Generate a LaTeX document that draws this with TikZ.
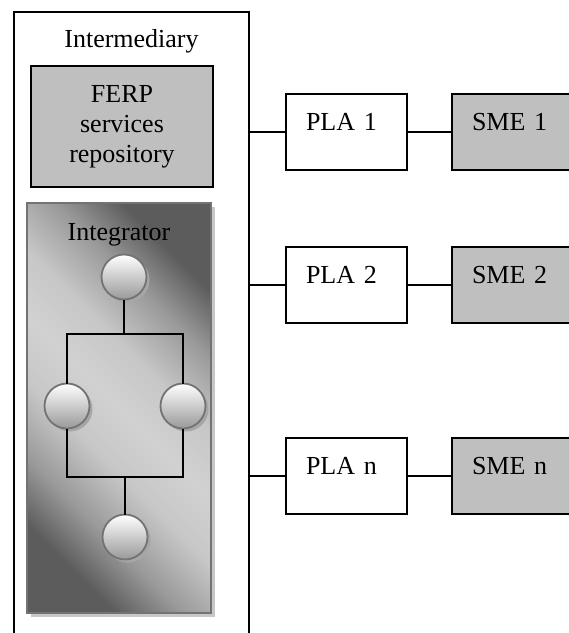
\documentclass[tikz,border=0pt]{standalone}
\usepackage{fontspec}
\setmainfont{Liberation Serif}
\usetikzlibrary{shadows}
\pgfdeclareverticalshading{integshade}{100bp}{color(0bp)=(black!64); color(25bp)=(black!64); color(33bp)=(black!40); color(42bp)=(black!22); color(50bp)=(black!18); color(58bp)=(black!22); color(67bp)=(black!40); color(75bp)=(black!64); color(100bp)=(black!64)}
\begin{document}
\begin{tikzpicture}[x=1pt,y=-1pt,
  every node/.style={font=\fontsize{26}{30}\selectfont, outer sep=0pt},
  line/.style={line width=1.8pt, black},
  outerbox/.style={draw, line width=1.8pt, anchor=north west, inner sep=0pt,
    minimum width=235pt, text height=35pt, text depth=640pt},
  repo/.style={draw, line width=1.8pt, anchor=north west, fill=black!25, inner sep=0pt,
    minimum width=182pt, minimum height=121pt, align=center},
  integ/.style={draw=black!55, line width=2pt, anchor=north west, inner sep=0pt,
    minimum width=184pt, text height=37pt, text depth=373pt,
    shading=integshade, shading angle=-45,
    drop shadow={shadow xshift=4pt, shadow yshift=-4pt, fill=black!22, opacity=1}},
  circ/.style={circle, draw=black!55, line width=1.8pt, minimum size=45pt, inner sep=0pt,
    top color=white, bottom color=black!40,
    drop shadow={shadow xshift=3pt, shadow yshift=-3pt, fill=black!35, opacity=1}},
  pbox/.style={draw, line width=1.8pt, anchor=north west, inner xsep=20pt, inner ysep=0pt,
    text width=81pt, align=left, text height=36pt, text depth=40pt, fill=white},
  sbox/.style={pbox, fill=black!25}]
\path[use as bounding box, clip] (0,0) rectangle (569,633);

\node[outerbox] (inter) at (14,12) {Intermediary};
\node[repo] (ferp) at (31,66) {FERP\\services\\repository};
\node[integ] (integ) at (27,203) {Integrator};

\node[circ] (c1) at (124,277) {};
\node[circ] (c2) at (67,406) {};
\node[circ] (c3) at (183,406) {};
\node[circ] (c4) at (125,537) {};
\coordinate (j1) at (124,334);
\coordinate (j2) at (125,477);
\draw[line] (c1.south) -- (j1);
\draw[line] (c2.north) |- (j1) -| (c3.north);
\draw[line] (c2.south) |- (j2) -| (c3.south);
\draw[line] (j2) -- (c4.north);

\node[pbox] (pla1) at (286,94) {PLA 1};
\node[sbox] (sme1) at (452,94) {SME 1};
\node[pbox] (pla2) at (286,247) {PLA 2};
\node[sbox] (sme2) at (452,247) {SME 2};
\node[pbox] (plan) at (286,438) {PLA n};
\node[sbox] (smen) at (452,438) {SME n};

\foreach \r in {1,2,n}{
  \draw[line] (inter.east |- pla\r.west) -- (pla\r.west);
  \draw[line] (pla\r.east) -- (sme\r.west);
}
\end{tikzpicture}
\end{document}
